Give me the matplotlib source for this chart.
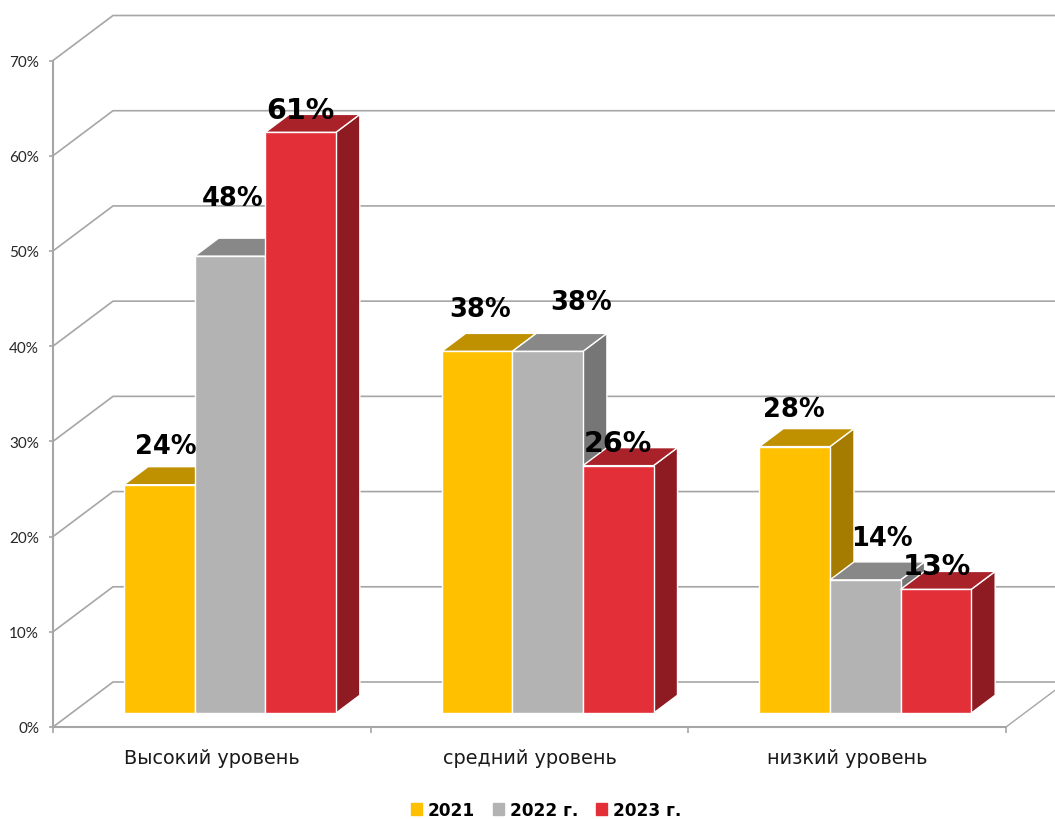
import matplotlib
matplotlib.use('Agg')
import matplotlib.pyplot as plt
from matplotlib.patches import Patch, Polygon
import numpy as np

categories = ['Высокий уровень', 'средний уровень', 'низкий уровень']
series_names = ['2021', '2022 г.', '2023 г.']
values_2021 = [24, 38, 28]
values_2022 = [48, 38, 14]
values_2023 = [61, 26, 13]
yticks = [0, 10, 20, 30, 40, 50, 60, 70]

# front, top and side face colours for each series
front_colors = ['#FFC000', '#B3B3B3', '#E32F37']
top_colors = ['#BF9000', '#888888', '#A9222A']
side_colors = ['#A67C00', '#767676', '#8E1B22']
line_color = '#A6A6A6'
# red series has bigger labels in the original
label_sizes = [18.5, 18.5, 20.5]

W, H = 1055, 820
fig = plt.figure(figsize=(W / 100, H / 100), dpi=100)
ax = fig.add_axes([53 / W, (H - 728) / H, (1006 - 53) / W, (728 - 61.5) / H])
ax.set_xlim(0, 3)
ax.set_ylim(0, 70)

# size of one pixel in data units
ux = 3 / (1006 - 53)
uy = 70 / (728 - 61.5)

# back walls of the fake 3d box
wall_dx, wall_dy = 60 * ux, 45 * uy
for t in yticks:
    ax.plot([0, wall_dx, 3 + wall_dx], [t, t + wall_dy, t + wall_dy],
            color=line_color, lw=1.2, clip_on=False, zorder=1)
ax.plot([3, 3 + wall_dx], [0, wall_dy], color=line_color, lw=1, clip_on=False, zorder=1)

# bars
bar_w = 70.6 * ux
depth_x, depth_y = 24 * ux, 18 * uy
base = 1.45
centers = np.arange(3) + 0.557
all_values = [values_2021, values_2022, values_2023]
z = 2
for c in range(3):
    for s in range(3):
        left = centers[c] + (s - 1.5) * bar_w
        right = left + bar_w
        top = base + all_values[s][c]
        side = Polygon([(right, base), (right + depth_x, base + depth_y),
                        (right + depth_x, top + depth_y), (right, top)],
                       fc=side_colors[s], ec='white', lw=1, clip_on=False, zorder=z)
        roof = Polygon([(left, top), (left + depth_x, top + depth_y),
                        (right + depth_x, top + depth_y), (right, top)],
                       fc=top_colors[s], ec='white', lw=1, clip_on=False, zorder=z)
        ax.add_patch(side)
        ax.add_patch(roof)
        ax.bar(left, all_values[s][c], bar_w, bottom=base, align='edge',
               color=front_colors[s], edgecolor='white', lw=1, clip_on=False, zorder=z)
        z += 1

# value labels, pixel offsets from the middle of the bar top
label_dx = [[6, 3, 0], [3, 34, 0], [-1, 17, 1]]
label_dy = [[39, 58, 22], [42, 49, 23], [38, 42, 23]]
for c in range(3):
    for s in range(3):
        v = all_values[s][c]
        x = centers[c] + (s - 1) * bar_w + label_dx[c][s] * ux
        y = base + v + label_dy[c][s] * uy
        ax.text(x, y, f'{v}%', ha='center', va='center', fontsize=label_sizes[s],
                fontweight='bold', family='DejaVu Sans', color='black', zorder=50, clip_on=False)

# axes
for name in ['top', 'right']:
    ax.spines[name].set_visible(False)
for name in ['left', 'bottom']:
    ax.spines[name].set_color(line_color)
    ax.spines[name].set_linewidth(1.5)
ax.patch.set_visible(False)

ax.set_yticks(yticks)
ax.set_yticklabels([f'{t}%' for t in yticks], fontsize=11, family='Lato', color='#262626')
ax.set_xticks([0, 1, 2, 3])
ax.set_xticklabels([])
ax.set_xticks([0.5, 1.5, 2.5], minor=True)
ax.set_xticklabels(categories, minor=True, fontsize=13.9, family='DejaVu Sans', color='#1a1a1a')
ax.tick_params(axis='x', which='minor', length=0, pad=15)
ax.tick_params(axis='x', which='major', length=4, width=1.2, color=line_color)
ax.tick_params(axis='y', length=3, width=1.2, color=line_color, pad=7)

handles = [Patch(color=col, label=name) for col, name in zip(front_colors, series_names)]
fig.legend(handles=handles, loc='center', bbox_to_anchor=(546 / W, (H - 811) / H), ncol=3,
           frameon=False, handlelength=0.65, handleheight=0.65, handletextpad=0.36,
           columnspacing=1.05, prop={'family': 'DejaVu Sans', 'weight': 'bold', 'size': 12.2})

fig.savefig('out.png', dpi=100)
